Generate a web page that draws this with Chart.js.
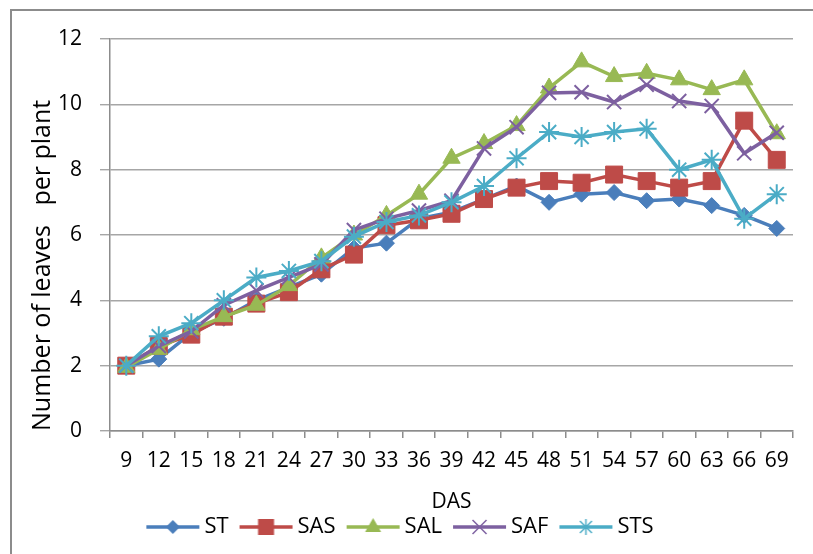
<!DOCTYPE html>
<html>
<head>
<meta charset="utf-8">
<script src="https://cdn.jsdelivr.net/npm/chart.js@4"></script>
<style>
  body { margin: 0; background: #fff; }
  #wrap { position: relative; width: 813px; height: 554px; overflow: hidden; }
  #frame { position: absolute; left: 10px; top: 9px; width: 900px; height: 700px;
           border-left: 2px solid #8c8c8c; border-top: 2px solid #8c8c8c; }
  canvas { position: absolute; left: 0; top: 0; }
</style>
</head>
<body>
<div id="wrap">
  <div id="frame"></div>
  <canvas id="leafChart" width="813" height="554"></canvas>
</div>
<script>
    // days after sowing
    const days = [9, 12, 15, 18, 21, 24, 27, 30, 33, 36, 39, 42, 45, 48, 51, 54, 57, 60, 63, 66, 69];

    const ST  = [2.0, 2.2, 3.0, 3.45, 4.0, 4.4, 4.8, 5.6, 5.75, 6.5, 6.7, 7.1, 7.5, 7.0, 7.25, 7.3, 7.05, 7.1, 6.9, 6.6, 6.2];
    const SAS = [2.0, 2.6, 2.95, 3.5, 3.9, 4.25, 4.95, 5.4, 6.3, 6.45, 6.65, 7.1, 7.45, 7.65, 7.6, 7.85, 7.65, 7.45, 7.65, 9.5, 8.3];
    const SAL = [1.95, 2.5, 3.1, 3.5, 3.85, 4.45, 5.3, 6.0, 6.6, 7.25, 8.35, 8.8, 9.35, 10.5, 11.3, 10.85, 10.95, 10.75, 10.45, 10.75, 9.1];
    const SAF = [2.0, 2.6, 3.05, 3.85, 4.3, 4.7, 5.1, 6.15, 6.5, 6.75, 7.05, 8.65, 9.3, 10.35, 10.37, 10.07, 10.6, 10.1, 9.95, 8.5, 9.13];
    const STS = [2.0, 2.9, 3.3, 4.0, 4.7, 4.9, 5.2, 5.95, 6.4, 6.6, 7.0, 7.5, 8.35, 9.15, 9.0, 9.15, 9.25, 8.0, 8.3, 6.5, 7.25];

    const seriesNames = ['ST', 'SAS', 'SAL', 'SAF', 'STS'];
    const seriesData = [ST, SAS, SAL, SAF, STS];
    const colors = ['#4a7ebb', '#be4b48', '#98b954', '#7d60a0', '#4bacc6'];
    const markers = ['rectRot', 'rect', 'triangle', 'crossRot', 'star'];
    const radii = [8, 12, 10, 10, 10];

    const FONT = "'Open Sans', 'Liberation Sans', sans-serif";

    // little line + marker swatch for the legend
    function legendSwatch(i) {
        const c = document.createElement('canvas');
        c.width = 80; c.height = 24;
        const g = c.getContext('2d');
        const col = colors[i];
        g.strokeStyle = col; g.fillStyle = col; g.lineWidth = 3.5;
        g.beginPath(); g.moveTo(20, 12); g.lineTo(73, 12); g.stroke();
        const x = 46.5, y = 12;
        g.beginPath();
        if (markers[i] === 'rectRot') {
            g.moveTo(x - 7, y); g.lineTo(x, y - 7); g.lineTo(x + 7, y); g.lineTo(x, y + 7); g.closePath(); g.fill();
        } else if (markers[i] === 'rect') {
            g.fillRect(x - 8, y - 8, 16, 16);
        } else if (markers[i] === 'triangle') {
            g.moveTo(x, y - 9); g.lineTo(x + 8, y + 5); g.lineTo(x - 8, y + 5); g.closePath(); g.fill();
        } else if (markers[i] === 'crossRot') {
            g.lineWidth = 1.5;
            g.moveTo(x - 7, y - 7); g.lineTo(x + 7, y + 7); g.moveTo(x + 7, y - 7); g.lineTo(x - 7, y + 7); g.stroke();
        } else {
            g.lineWidth = 1.5;
            g.moveTo(x - 6, y - 6); g.lineTo(x + 6, y + 6); g.moveTo(x + 6, y - 6); g.lineTo(x - 6, y + 6);
            g.moveTo(x, y - 8); g.lineTo(x, y + 8); g.stroke();
        }
        return c;
    }
    const swatches = seriesNames.map((n, i) => legendSwatch(i));

    const ctx = document.getElementById('leafChart').getContext('2d');
    new Chart(ctx, {
        type: 'line',
        data: {
            labels: days,
            datasets: seriesNames.map((name, i) => ({
                label: name,
                data: seriesData[i],
                borderColor: colors[i],
                backgroundColor: colors[i],
                borderWidth: 3.5,
                pointStyle: markers[i],
                pointRadius: radii[i],
                pointBackgroundColor: colors[i],
                pointBorderColor: colors[i],
                pointBorderWidth: (i >= 3) ? 2 : 1,
                tension: 0,
                order: 4 - i
            }))
        },
        options: {
            responsive: false,
            animation: false,
            layout: { padding: { top: 39, right: 20, left: 0, bottom: 6 } },
            plugins: {
                tooltip: { enabled: false },
                legend: {
                    position: 'bottom',
                    labels: {
                        usePointStyle: true,
                        pointStyleWidth: 54,
                        padding: 4,
                        color: '#000',
                        font: { family: FONT, size: 22 },
                        generateLabels: (chart) => chart.data.datasets.map((ds, i) => ({
                            text: ds.label,
                            pointStyle: swatches[i],
                            fillStyle: colors[i],
                            strokeStyle: colors[i],
                            lineWidth: 0,
                            datasetIndex: i,
                            fontColor: '#000'
                        }))
                    }
                }
            },
            scales: {
                x: {
                    offset: true,
                    grid: { display: true, drawOnChartArea: false, offset: true, tickLength: 7, color: '#8c8c8c', lineWidth: 1.5 },
                    border: { color: '#8c8c8c', width: 1.5 },
                    ticks: { color: '#000', font: { family: FONT, size: 21 }, maxRotation: 0, autoSkip: false, padding: 10 },
                    title: { display: true, text: 'DAS', color: '#000', font: { family: FONT, size: 21 }, padding: { top: 0, bottom: -3 } },
                    afterFit: (scale) => { scale.height = 81; }
                },
                y: {
                    min: 0,
                    max: 12,
                    ticks: { stepSize: 2, color: '#000', font: { family: FONT, size: 21 }, padding: 18 },
                    grid: { color: '#a6a6a6', lineWidth: 1.4, tickLength: 10 },
                    border: { color: '#8c8c8c', width: 1.5 },
                    title: { display: true, align: 'start', text: 'Number of leaves   per plant', color: '#000', font: { family: FONT, size: 25 }, padding: { top: 28, bottom: 0 } },
                    afterFit: (scale) => { scale.width = 110; }
                }
            }
        }
    });
</script>
</body>
</html>
